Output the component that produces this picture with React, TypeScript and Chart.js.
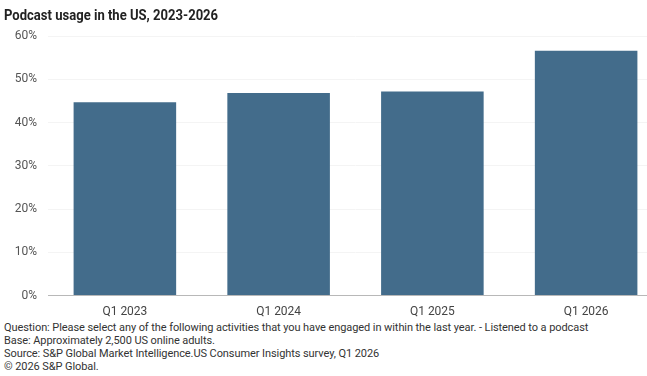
import React, { useEffect, useRef } from "react";
import { Chart, registerables } from "chart.js";

Chart.register(...registerables);

const categories = ["Q1 2023", "Q1 2024", "Q1 2025", "Q1 2026"];
const usage = [44.7, 46.8, 47.2, 56.6];
const yTicks = [0, 10, 20, 30, 40, 50, 60];
const title = "Podcast usage in the US, 2023-2026";
const footnotes = [
  "Question: Please select any of the following activities that you have engaged in within the last year. - Listened to a podcast",
  "Base: Approximately 2,500 US online adults.",
  "Source: S&P Global Market Intelligence.US Consumer Insights survey, Q1 2026",
  "\u00A9 2026 S&P Global.",
];

const FONT = "Roboto, 'Liberation Sans', sans-serif";

export default function App() {
  const ref = useRef<HTMLCanvasElement | null>(null);

  useEffect(() => {
    document.body.style.margin = "0";
    const canvas = ref.current;
    if (!canvas) return;
    const chart = new Chart(canvas, {
      type: "bar",
      data: {
        labels: categories,
        datasets: [
          {
            data: usage,
            backgroundColor: "#436c8b",
            categoryPercentage: 0.667,
            barPercentage: 1,
          },
        ],
      },
      options: {
        animation: false,
        responsive: false,
        maintainAspectRatio: false,
        layout: { padding: { top: 36, right: 7, left: 0, bottom: 0 } },
        plugins: { legend: { display: false }, tooltip: { enabled: false } },
        scales: {
          x: {
            grid: { display: false },
            border: { display: true, color: "#b8b8b8", width: 1 },
            ticks: { color: "#444", font: { family: FONT, size: 12 }, padding: 1 },
          },
          y: {
            min: 0,
            max: 60,
            afterFit: (s: any) => {
              s.width = 48;
            },
            afterBuildTicks: (s: any) => {
              s.ticks = yTicks.map((v) => ({ value: v }));
            },
            grid: { color: "#f4f4f4", drawTicks: false },
            border: { display: false },
            ticks: {
              color: "#555",
              font: { family: FONT, size: 12 },
              padding: 11,
              callback: (v: any) => v + "%",
            },
          },
        },
      },
    });
    return () => chart.destroy();
  }, []);

  return (
    <div style={{ position: "relative", width: 647, height: 376, background: "#fff", overflow: "hidden" }}>
      <canvas ref={ref} width={670} height={320} style={{ position: "absolute", left: 0, top: 0 }} />
      <div
        style={{
          position: "absolute",
          left: 4,
          top: 6,
          fontFamily: FONT,
          fontWeight: 700,
          fontSize: 15,
          color: "#222",
          whiteSpace: "nowrap",
          transform: "scaleX(0.87)",
          transformOrigin: "left top",
        }}
      >
        {title}
      </div>
      <div
        style={{
          position: "absolute",
          left: 4,
          top: 321,
          fontFamily: FONT,
          fontSize: 11,
          lineHeight: "13px",
          letterSpacing: "-0.08px",
          color: "#333",
          whiteSpace: "nowrap",
        }}
      >
        {footnotes.map((t, i) => (
          <div key={i}>{t}</div>
        ))}
      </div>
    </div>
  );
}
